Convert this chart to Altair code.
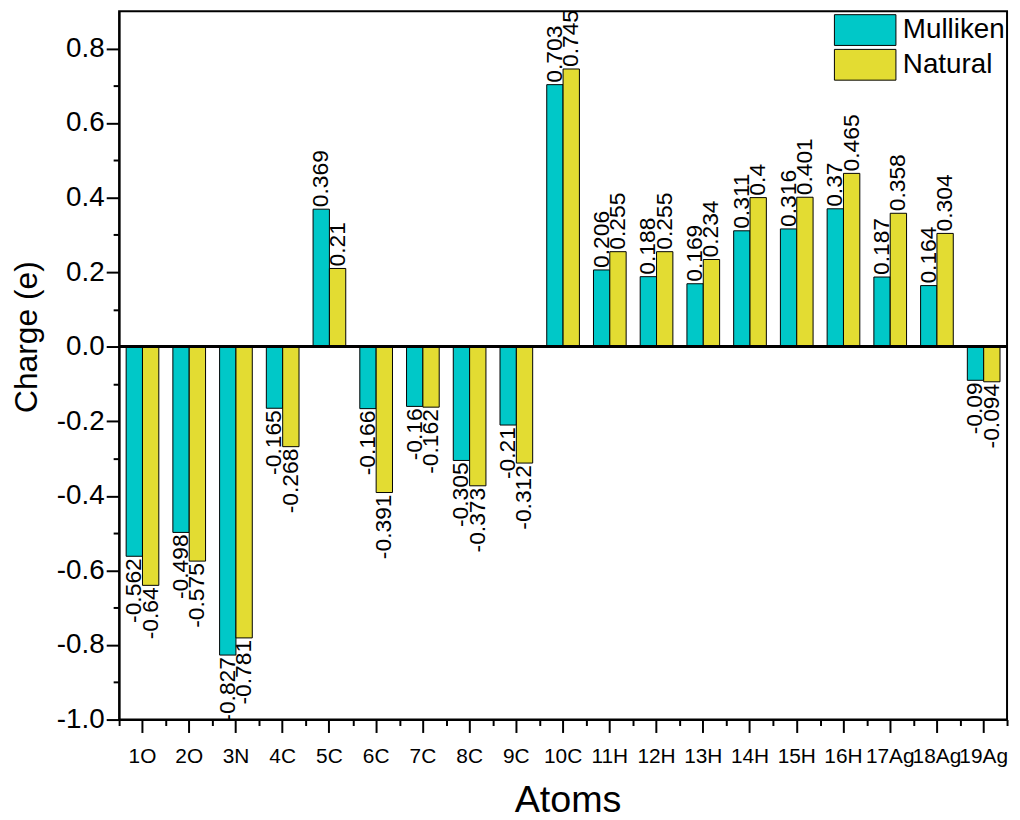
import altair as alt
import pandas as pd

atoms = ["1O", "2O", "3N", "4C", "5C", "6C", "7C", "8C", "9C", "10C",
         "11H", "12H", "13H", "14H", "15H", "16H", "17Ag", "18Ag", "19Ag"]
mulliken = [-0.562, -0.498, -0.827, -0.165, 0.369, -0.166, -0.16, -0.305, -0.21, 0.703,
            0.206, 0.188, 0.169, 0.311, 0.316, 0.37, 0.187, 0.164, -0.09]
natural = [-0.64, -0.575, -0.781, -0.268, 0.21, -0.391, -0.162, -0.373, -0.312, 0.745,
           0.255, 0.255, 0.234, 0.4, 0.401, 0.465, 0.358, 0.304, -0.094]
methods = ["Mulliken", "Natural"]
colors = ["#00C8C8", "#E3DC32"]
y_major = [-1.0, -0.8, -0.6, -0.4, -0.2, 0.0, 0.2, 0.4, 0.6, 0.8]
y_minor = [-0.9, -0.7, -0.5, -0.3, -0.1, 0.1, 0.3, 0.5, 0.7]

rows = []
for a, m, n in zip(atoms, mulliken, natural):
    rows.append({"Atom": a, "Method": "Mulliken", "value": m, "label": str(m)})
    rows.append({"Atom": a, "Method": "Natural", "value": n, "label": str(n)})
df = pd.DataFrame(rows)

FONT = "Liberation Sans"
xscale = alt.Scale(paddingInner=0, paddingOuter=0)
yscale = alt.Scale(domain=[-1.0, 0.9], nice=False)
xoff = alt.XOffset("Method:N", sort=methods, scale=alt.Scale(paddingOuter=0.43, paddingInner=0))

x_major_axis = alt.Axis(orient="bottom", labelAngle=0, labelFontSize=21, labelFont=FONT,
                        labelColor="black", tickSize=13, tickWidth=2, tickColor="black",
                        domainWidth=2, domainColor="black", labelPadding=30,
                        labelBaseline="alphabetic", labelOverlap=False, grid=False,
                        title="Atoms", titleFontSize=38, titleFont=FONT, titleFontWeight="normal",
                        titleColor="black", titleX=452, titleY=93, titleBaseline="alphabetic",
                        titleAlign="center")
x_minor_axis = alt.Axis(orient="bottom", labels=False, tickBand="extent", tickSize=6,
                        tickWidth=2, tickColor="black", domain=False, grid=False, title=None)
y_major_axis = alt.Axis(orient="left", values=y_major, format=".1f",
                        labelExpr="replace(datum.label, '\u2212', '-')",
                        tickSize=13, tickWidth=2, tickColor="black", domainColor="black",
                        domainWidth=2, labelFontSize=28, labelFont=FONT, labelColor="black",
                        labelPadding=2, grid=False,
                        title="Charge (e)", titleFontSize=32, titleFont=FONT,
                        titleFontWeight="normal", titleColor="black", titleAngle=270,
                        titleX=-83, titleY=328, titleAlign="center", titleBaseline="alphabetic")
y_minor_axis = alt.Axis(orient="left", values=y_minor, labels=False, tickSize=6, tickWidth=2,
                        tickColor="black", domain=False, grid=False, title=None)

base = alt.Chart(df)

minor = base.mark_point(opacity=0).encode(
    x=alt.X("Atom:N", sort=atoms, scale=xscale, axis=x_minor_axis),
    y=alt.Y("value:Q", scale=yscale, axis=y_minor_axis),
)

bars = base.mark_bar(stroke="black", strokeWidth=1, opacity=1).encode(
    x=alt.X("Atom:N", sort=atoms, scale=xscale, axis=x_major_axis),
    xOffset=xoff,
    y=alt.Y("value:Q", scale=yscale, axis=y_major_axis),
    color=alt.Color("Method:N", scale=alt.Scale(domain=methods, range=colors),
                    legend=alt.Legend(title=None, orient="none", legendX=736, legendY=3,
                                      symbolType="M-2,-1H2V1H-2Z", symbolSize=961,
                                      symbolStrokeColor="black", symbolStrokeWidth=1,
                                      symbolOpacity=1, labelFontSize=28, labelFont=FONT,
                                      labelColor="black", labelOffset=22, rowPadding=-1,
                                      padding=0)),
)

zero = base.transform_calculate(zero="0").mark_rule(color="black", strokeWidth=2).encode(
    y=alt.Y("zero:Q", scale=yscale, axis=None)
)

pos_text = base.transform_filter("datum.value >= 0").mark_text(
    angle=270, align="left", baseline="middle", dx=2, fontSize=23, font=FONT, color="black"
).encode(
    x=alt.X("Atom:N", sort=atoms, scale=xscale, axis=None),
    xOffset=xoff,
    y=alt.Y("value:Q", scale=yscale, axis=None),
    text="label:N",
)

neg_text = base.transform_filter("datum.value < 0").mark_text(
    angle=270, align="right", baseline="middle", dx=-2, fontSize=23, font=FONT, color="black"
).encode(
    x=alt.X("Atom:N", sort=atoms, scale=xscale, axis=None),
    xOffset=xoff,
    y=alt.Y("value:Q", scale=yscale, axis=None),
    text="label:N",
)

chart = alt.layer(minor, bars, zero, pos_text, neg_text).resolve_axis(
    x="independent", y="independent"
).properties(
    width=895, height=714,
    autosize=alt.AutoSizeParams(type="none"),
    padding={"left": 112, "top": 0, "right": 5, "bottom": 98},
).configure(font=FONT).configure_view(stroke="black", strokeWidth=2)

chart.save("out.html", embed_options={"renderer": "svg", "actions": False})
